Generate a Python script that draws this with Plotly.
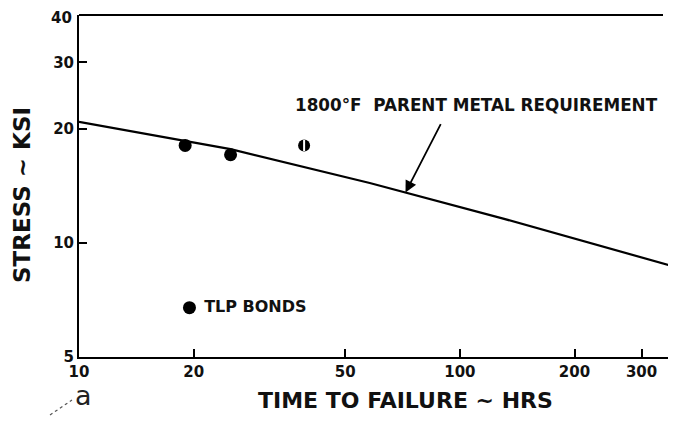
import numpy as np
import plotly.graph_objects as go

# 1800F parent metal requirement curve (hours, ksi)
req_hours = [10, 25, 58, 130, 360]
req_stress = [20.9, 17.7, 14.4, 11.6, 8.7]

# TLP bond test results
bond_hours = [19, 25]
bond_stress = [18.1, 17.1]
halfbond_hours = [39]
halfbond_stress = [18.1]

# legend key position
key_hours = [19.5]
key_stress = [6.75]

x_ticks = [10, 20, 50, 100, 200, 300]
y_ticks = [5, 10, 20, 30, 40]

FONT = "DejaVu Sans"

# plot area in window pixels (page body adds an 8px offset)
PX0, PX1, PY0, PY1 = 79, 668, 15, 357
PW, PH = PX1 - PX0, PY1 - PY0


def px(x):
    return (x - PX0) / PW


def py(y):
    return (PY1 - y) / PH


def label(x, y, text, size, angle=0, weight='bold', color='#111', xanchor='center'):
    fig.add_annotation(
        x=px(x), y=py(y), xref='paper', yref='paper',
        xanchor=xanchor, yanchor='middle', showarrow=False,
        text=text, textangle=angle,
        font=dict(family=FONT, size=size, color=color, weight=weight)
    )


fig = go.Figure()

fig.add_trace(go.Scatter(
    x=req_hours, y=req_stress, mode='lines',
    line=dict(color='black', width=2.2),
    cliponaxis=False, showlegend=False
))

fig.add_trace(go.Scatter(
    x=bond_hours, y=bond_stress, mode='markers',
    marker=dict(symbol='circle', size=13, color='black'),
    showlegend=False
))

# half-filled point: black disc with a white stripe
fig.add_trace(go.Scatter(
    x=halfbond_hours, y=halfbond_stress, mode='markers',
    marker=dict(symbol='circle', size=12, color='black'),
    showlegend=False
))
fig.add_trace(go.Scatter(
    x=halfbond_hours, y=halfbond_stress, mode='markers',
    marker=dict(symbol='line-ns', size=8, line=dict(color='white', width=2)),
    showlegend=False
))

fig.add_trace(go.Scatter(
    x=key_hours, y=key_stress, mode='markers+text',
    marker=dict(symbol='circle', size=13, color='black'),
    text=['\u00a0TLP BONDS'], textposition='middle right',
    textfont=dict(family=FONT, size=16, color='#111', weight='bold'),
    showlegend=False
))

# arrow target on the requirement curve
arrow_x = 72
arrow_y = 10 ** np.interp(np.log10(arrow_x), np.log10(req_hours), np.log10(req_stress))

fig.add_annotation(
    x=np.log10(arrow_x), y=np.log10(arrow_y), text='',
    showarrow=True, arrowhead=2, arrowsize=1.3, arrowwidth=1.8,
    arrowcolor='black', ax=36, ay=-70
)

label(476, 105, '1800°F  PARENT METAL REQUIREMENT', 16.8)
label(405, 400, 'TIME TO FAILURE ~ HRS', 22)
label(22, 195, 'STRESS ~ KSI', 23, angle=-90)
label(83, 396, 'a', 27, weight='normal', color='#222')

# top tick label sits a little below its tick so it stays on the page
y_text = [str(v) for v in y_ticks]
label(74, 18.5, y_text[-1], 15, xanchor='right')
y_text[-1] = ''

fig.add_shape(type='line', xref='paper', yref='paper',
              x0=px(50), x1=px(72), y0=py(415), y1=py(400),
              line=dict(color='#555', width=1.2, dash='dot'))

# top border and its single tick
fig.add_shape(type='line', xref='paper', yref='paper',
              x0=0, x1=px(663), y0=1, y1=1, line=dict(color='black', width=2))
fig.add_shape(type='line', xref='x', yref='paper',
              x0=np.log10(20.3), x1=np.log10(20.3), y0=1, y1=0.975,
              line=dict(color='black', width=1.5))

tick_font = dict(family=FONT, size=15, color='#111', weight='bold')

fig.update_xaxes(
    type='log', range=[1, np.log10(352)], automargin=False,
    tickvals=x_ticks, ticktext=[str(v) for v in x_ticks],
    ticks='inside', ticklen=8, tickwidth=2, tickcolor='black',
    showline=True, linewidth=2, linecolor='black', ticklabeloverflow='allow',
    showgrid=False, zeroline=False, tickfont=tick_font
)
fig.update_yaxes(
    type='log', range=[np.log10(5), np.log10(40)], automargin=False,
    tickvals=y_ticks, ticktext=y_text,
    ticks='inside', ticklen=8, tickwidth=2, tickcolor='black',
    showline=True, linewidth=2, linecolor='black', ticklabeloverflow='allow',
    showgrid=False, zeroline=False, tickfont=tick_font
)

fig.update_layout(
    width=680, height=428,
    margin=dict(l=PX0 - 8, r=680 - PX1 + 8, t=PY0 - 8, b=428 - PY1 + 8),
    plot_bgcolor='white', paper_bgcolor='white',
    showlegend=False
)

fig.write_html("out.html")
